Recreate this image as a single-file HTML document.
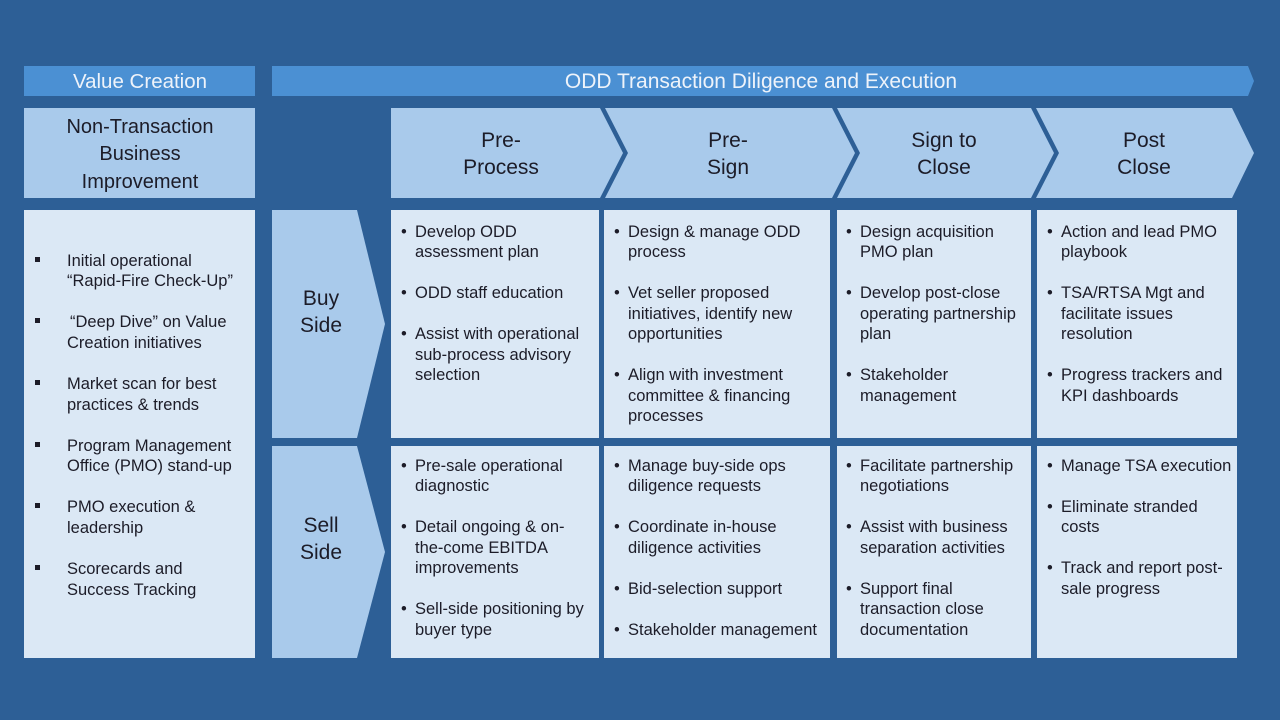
<!DOCTYPE html>
<html><head><meta charset="utf-8"><style>
html,body{margin:0;padding:0;background:#2d5f96;}
svg{display:block;}
text{font-family:"Liberation Sans",Arial,sans-serif;}
.b{font-size:16.5px;fill:#1c1c28;}
.h{font-size:21px;fill:#1c1c28;text-anchor:middle;}
.w{font-size:20.5px;fill:#eef3fa;text-anchor:middle;}
</style></head><body>
<svg width="1280" height="720" viewBox="0 0 1280 720" xmlns="http://www.w3.org/2000/svg">
<rect x="0" y="0" width="1280" height="720" fill="#2d5f96"/>
<!-- header bars -->
<rect x="24" y="66" width="231" height="30" fill="#4b90d3"/>
<polygon points="272,66 1248,66 1254,81 1248,96 272,96" fill="#4b90d3"/>
<text class="w" x="140" y="88">Value Creation</text>
<text class="w" x="761" y="88" style="font-size:21px">ODD Transaction Diligence and Execution</text>
<!-- second row -->
<rect x="24" y="108" width="231" height="90" fill="#a9caeb"/>
<polygon points="391,108 600,108 623,153 600,198 391,198" fill="#a9caeb"/>
<polygon points="605,108 832,108 855,153 832,198 605,198 628,153" fill="#a9caeb"/>
<polygon points="837,108 1031,108 1054,153 1031,198 837,198 860,153" fill="#a9caeb"/>
<polygon points="1036,108 1232,108 1254,153 1232,198 1036,198 1059,153" fill="#a9caeb"/>
<g class="h" style="font-size:20px">
<text class="h" x="140" y="133" style="font-size:20px">Non-Transaction</text>
<text class="h" x="140" y="160" style="font-size:20px">Business</text>
<text class="h" x="140" y="188" style="font-size:20px">Improvement</text>
</g>
<text class="h" x="501" y="147">Pre-</text><text class="h" x="501" y="174">Process</text>
<text class="h" x="728" y="147">Pre-</text><text class="h" x="728" y="174">Sign</text>
<text class="h" x="944" y="147">Sign to</text><text class="h" x="944" y="174">Close</text>
<text class="h" x="1144" y="147">Post</text><text class="h" x="1144" y="174">Close</text>
<!-- left list -->
<rect x="24" y="210" width="231" height="448" fill="#dbe8f5"/>
<g fill="#1c1c28">
<rect x="35" y="257" width="5" height="5"/>
<rect x="35" y="318" width="5" height="5"/>
<rect x="35" y="380" width="5" height="5"/>
<rect x="35" y="442" width="5" height="5"/>
<rect x="35" y="503" width="5" height="5"/>
<rect x="35" y="565" width="5" height="5"/>
</g>
<g class="b">
<text class="b" x="67" y="266">Initial operational</text>
<text class="b" x="67" y="286">“Rapid-Fire Check-Up”</text>
<text class="b" x="70" y="327">“Deep Dive” on Value</text>
<text class="b" x="67" y="348">Creation initiatives</text>
<text class="b" x="67" y="389">Market scan for best</text>
<text class="b" x="67" y="410">practices &amp; trends</text>
<text class="b" x="67" y="451">Program Management</text>
<text class="b" x="67" y="471">Office (PMO) stand-up</text>
<text class="b" x="67" y="512">PMO execution &amp;</text>
<text class="b" x="67" y="533">leadership</text>
<text class="b" x="67" y="574">Scorecards and</text>
<text class="b" x="67" y="595">Success Tracking</text>
</g>
<!-- buy/sell -->
<polygon points="272,210 357,210 385,324 357,438 272,438" fill="#a9caeb"/>
<polygon points="272,446 357,446 385,552 357,658 272,658" fill="#a9caeb"/>
<text class="h" x="321" y="305">Buy</text><text class="h" x="321" y="332">Side</text>
<text class="h" x="321" y="532">Sell</text><text class="h" x="321" y="559">Side</text>
<!-- content boxes -->
<g fill="#dbe8f5">
<rect x="391" y="210" width="208" height="228"/>
<rect x="604" y="210" width="226" height="228"/>
<rect x="837" y="210" width="194" height="228"/>
<rect x="1037" y="210" width="200" height="228"/>
<rect x="391" y="446" width="208" height="212"/>
<rect x="604" y="446" width="226" height="212"/>
<rect x="837" y="446" width="194" height="212"/>
<rect x="1037" y="446" width="200" height="212"/>
</g>
<!-- col1 row1 -->
<g class="b">
<text class="b" x="401" y="237">•</text><text class="b" x="415" y="237">Develop ODD</text>
<text class="b" x="415" y="257">assessment plan</text>
<text class="b" x="401" y="298">•</text><text class="b" x="415" y="298">ODD staff education</text>
<text class="b" x="401" y="339">•</text><text class="b" x="415" y="339">Assist with operational</text>
<text class="b" x="415" y="360">sub-process advisory</text>
<text class="b" x="415" y="380">selection</text>
<!-- col2 row1 -->
<text class="b" x="614" y="237">•</text><text class="b" x="628" y="237">Design &amp; manage ODD</text>
<text class="b" x="628" y="257">process</text>
<text class="b" x="614" y="298">•</text><text class="b" x="628" y="298">Vet seller proposed</text>
<text class="b" x="628" y="319">initiatives, identify new</text>
<text class="b" x="628" y="339">opportunities</text>
<text class="b" x="614" y="380">•</text><text class="b" x="628" y="380">Align with investment</text>
<text class="b" x="628" y="401">committee &amp; financing</text>
<text class="b" x="628" y="421">processes</text>
<!-- col3 row1 -->
<text class="b" x="846" y="237">•</text><text class="b" x="860" y="237">Design acquisition</text>
<text class="b" x="860" y="257">PMO plan</text>
<text class="b" x="846" y="298">•</text><text class="b" x="860" y="298">Develop post-close</text>
<text class="b" x="860" y="319">operating partnership</text>
<text class="b" x="860" y="339">plan</text>
<text class="b" x="846" y="380">•</text><text class="b" x="860" y="380">Stakeholder</text>
<text class="b" x="860" y="401">management</text>
<!-- col4 row1 -->
<text class="b" x="1047" y="237">•</text><text class="b" x="1061" y="237">Action and lead PMO</text>
<text class="b" x="1061" y="257">playbook</text>
<text class="b" x="1047" y="298">•</text><text class="b" x="1061" y="298">TSA/RTSA Mgt and</text>
<text class="b" x="1061" y="319">facilitate issues</text>
<text class="b" x="1061" y="339">resolution</text>
<text class="b" x="1047" y="380">•</text><text class="b" x="1061" y="380">Progress trackers  and</text>
<text class="b" x="1061" y="401">KPI dashboards</text>
<!-- row2 col1 -->
<text class="b" x="401" y="471">•</text><text class="b" x="415" y="471">Pre-sale operational</text>
<text class="b" x="415" y="491">diagnostic</text>
<text class="b" x="401" y="532">•</text><text class="b" x="415" y="532">Detail ongoing &amp; on-</text>
<text class="b" x="415" y="553">the-come EBITDA</text>
<text class="b" x="415" y="573">improvements</text>
<text class="b" x="401" y="614">•</text><text class="b" x="415" y="614">Sell-side positioning by</text>
<text class="b" x="415" y="635">buyer type</text>
<!-- row2 col2 -->
<text class="b" x="614" y="471">•</text><text class="b" x="628" y="471">Manage buy-side ops</text>
<text class="b" x="628" y="491">diligence requests</text>
<text class="b" x="614" y="532">•</text><text class="b" x="628" y="532">Coordinate in-house</text>
<text class="b" x="628" y="553">diligence activities</text>
<text class="b" x="614" y="594">•</text><text class="b" x="628" y="594">Bid-selection support</text>
<text class="b" x="614" y="635">•</text><text class="b" x="628" y="635">Stakeholder management</text>
<!-- row2 col3 -->
<text class="b" x="846" y="471">•</text><text class="b" x="860" y="471">Facilitate partnership</text>
<text class="b" x="860" y="491">negotiations</text>
<text class="b" x="846" y="532">•</text><text class="b" x="860" y="532">Assist with business</text>
<text class="b" x="860" y="553">separation activities</text>
<text class="b" x="846" y="594">•</text><text class="b" x="860" y="594">Support final</text>
<text class="b" x="860" y="614">transaction close</text>
<text class="b" x="860" y="635">documentation</text>
<!-- row2 col4 -->
<text class="b" x="1047" y="471">•</text><text class="b" x="1061" y="471">Manage TSA execution</text>
<text class="b" x="1047" y="512">•</text><text class="b" x="1061" y="512">Eliminate stranded</text>
<text class="b" x="1061" y="532">costs</text>
<text class="b" x="1047" y="573">•</text><text class="b" x="1061" y="573">Track and report post-</text>
<text class="b" x="1061" y="594">sale progress</text>
</g>
</svg>
</body></html>
